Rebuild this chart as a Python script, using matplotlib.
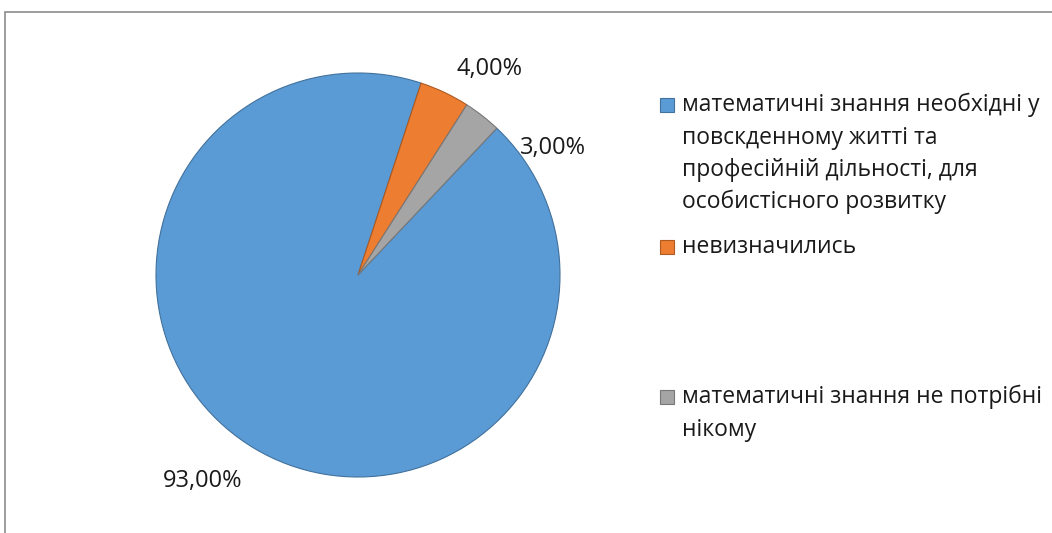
import numpy as np
import matplotlib
matplotlib.use("Agg")
import matplotlib.pyplot as plt
from matplotlib.patches import Rectangle

plt.rcParams['font.family'] = ['Open Sans', 'DejaVu Sans']

# data
categories = [
    "математичні знання необхідні у\nповскденному житті та\nпрофесійній дільності, для\nособистісного розвитку",
    "невизначились",
    "математичні знання не потрібні\nнікому",
]
values = [93.0, 4.0, 3.0]
value_labels = ["93,00%", "4,00%", "3,00%"]

colors = ["#5B9BD5", "#ED7D31", "#A5A5A5"]
edges = ["#41719C", "#AE5A21", "#787878"]

W, H = 1052, 533
fig = plt.figure(figsize=(W / 100, H / 100), dpi=100)

# chart border (only top and left visible in the crop)
fig.patches.append(Rectangle((5 / W, -0.1), 1.2, 1 - 12 / H + 0.1,
                             transform=fig.transFigure, fill=False,
                             edgecolor="#8C8C8C", linewidth=1.2))

# pie axes: centre (358, 275) px, radius 202 px
cx, cy, r = 358, 275, 202
ax = fig.add_axes([(cx - r) / W, (H - cy - r) / H, 2 * r / W, 2 * r / H])
wedges, _ = ax.pie(values, colors=colors, startangle=46.6, counterclock=False,
                   wedgeprops=dict(linewidth=0.8))
for w, ec in zip(wedges, edges):
    w.set_edgecolor(ec)
ax.set_xlim(-1, 1)
ax.set_ylim(-1, 1)
ax.set_aspect("equal")
ax.axis("off")

# data labels (radius, clock angle from 12 o'clock) - Excel best fit positions
label_pos = [(1.28, 217), (1.21, 32.5), (1.15, 57)]
for lab, (rr, ang) in zip(value_labels, label_pos):
    a = np.deg2rad(ang)
    ax.text(rr * np.sin(a), rr * np.cos(a), lab, ha="center", va="center",
            fontsize=17, color="#1a1a1a", clip_on=False)

# legend drawn by hand, one text per line
sq = 14
first_baseline = [111, 253, 403]
pitch = 32.5
for cat, col, ec, yb in zip(categories, colors, edges, first_baseline):
    yc = yb - 6
    fig.patches.append(Rectangle((660 / W, (H - yc - sq / 2) / H), sq / W, sq / H,
                                 transform=fig.transFigure, facecolor=col,
                                 edgecolor=ec, linewidth=0.8))
    for i, line in enumerate(cat.split("\n")):
        fig.text(682 / W, (H - yb - i * pitch) / H, line, ha="left",
                 va="baseline", fontsize=16.5, color="#1a1a1a")

fig.savefig("out.png", dpi=100)
